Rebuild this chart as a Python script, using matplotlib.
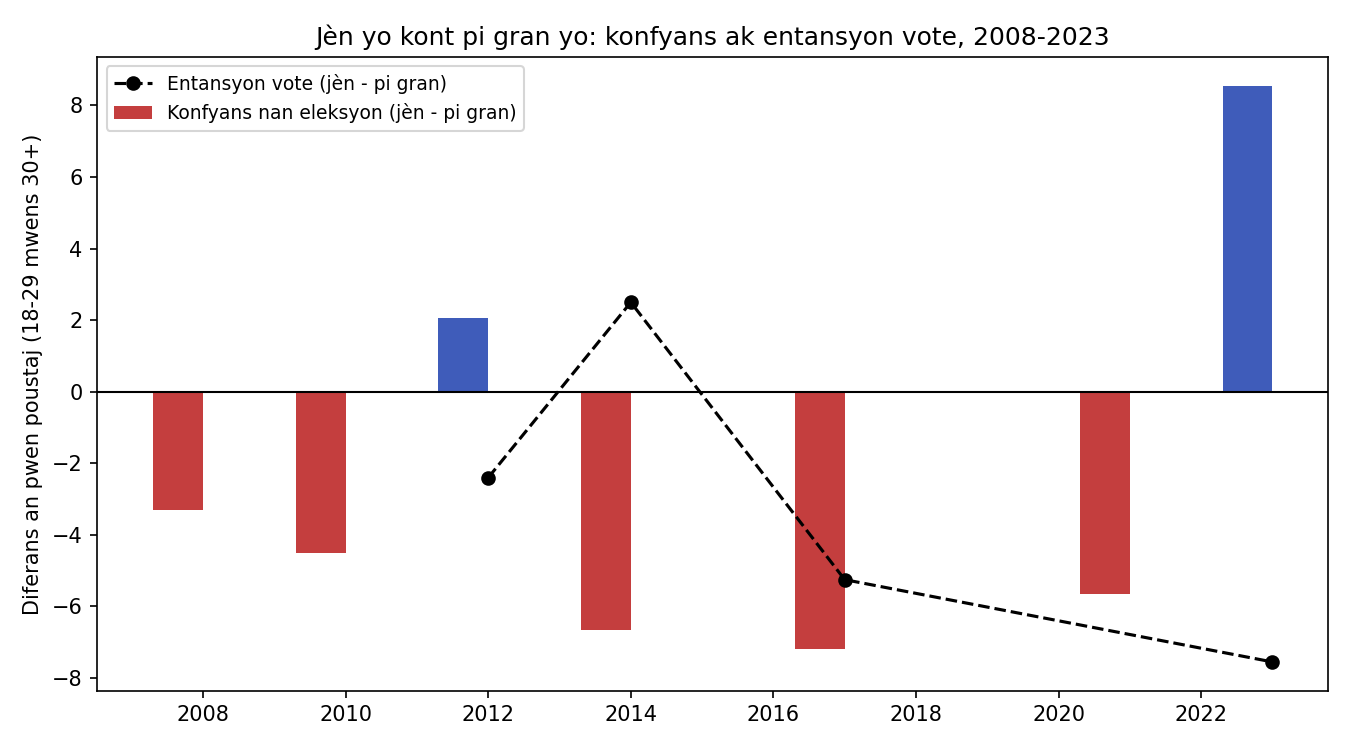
import matplotlib
matplotlib.use("Agg")
import matplotlib.pyplot as plt
import numpy as np

bar_years = [2008, 2010, 2012, 2014, 2017, 2021, 2023]
bar_values = [-3.3, -4.5, 2.05, -6.65, -7.2, -5.65, 8.55]
line_years = [2012, 2014, 2017, 2023]
line_values = [-2.4, 2.5, -5.25, -7.55]

red = "#c43e3e"
blue = "#3f5cba"

fig, ax = plt.subplots(figsize=(9, 5), dpi=150)
colors = [blue if v > 0 else red for v in bar_values]
ax.bar(np.array(bar_years) - 0.35, bar_values, width=0.7, color=colors,
       label="Konfyans nan eleksyon (jèn - pi gran)")
ax.plot(line_years, line_values, "k--o", linewidth=1.5, markersize=6,
        label="Entansyon vote (jèn - pi gran)")
ax.axhline(0, color="black", linewidth=1)
ax.set_title("Jèn yo kont pi gran yo: konfyans ak entansyon vote, 2008-2023", fontsize=12)
ax.set_ylabel("Diferans an pwen poustaj (18-29 mwens 30+)", fontsize=10)
ax.tick_params(labelsize=10)
ax.set_xticks(range(2008, 2024, 2))
ax.legend(loc="upper left", fontsize=9)
fig.subplots_adjust(left=0.072, right=0.984, top=0.924, bottom=0.079)
fig.savefig("out.png")
